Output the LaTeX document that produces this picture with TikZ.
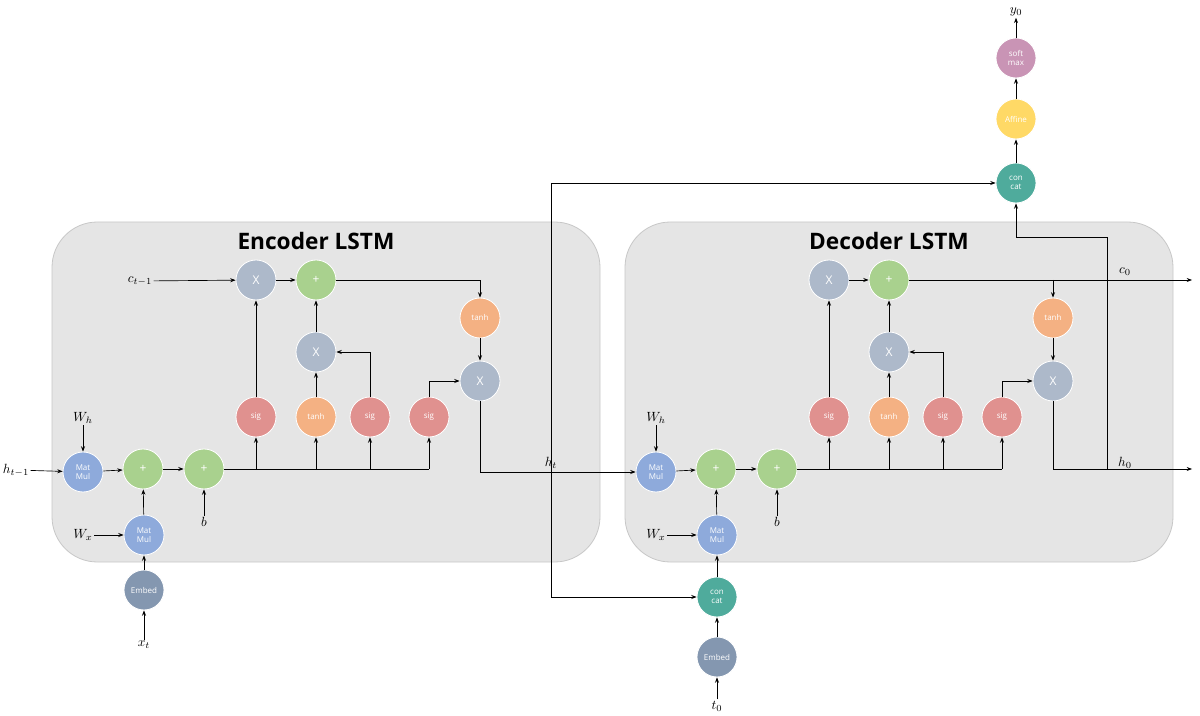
\documentclass[tikz,border=0pt]{standalone}
\usepackage{fontspec}
\setsansfont{Open Sans}
\usetikzlibrary{arrows.meta}
\definecolor{cmat}{HTML}{8EAADB}
\definecolor{cplus}{HTML}{A9D18E}
\definecolor{cx}{HTML}{ADB9CA}
\definecolor{csig}{HTML}{E0918F}
\definecolor{ctanh}{HTML}{F4B183}
\definecolor{cemb}{HTML}{8497B0}
\definecolor{ccat}{HTML}{4FAB9C}
\definecolor{caff}{HTML}{FFD966}
\definecolor{csm}{HTML}{C994B5}
\begin{document}
\begin{tikzpicture}[x=0.75pt,y=-0.75pt,
 op/.style={circle,minimum size=30pt,inner sep=0pt,draw=white,line width=0.6pt,text=white,font=\sffamily\fontsize{6}{7}\selectfont,align=center},
 big/.style={op,font=\sffamily\fontsize{9}{10}\selectfont},
 lab/.style={inner sep=1pt,font=\fontsize{10}{12}\selectfont},
 panel/.style={draw=black!22,fill=black!10,rounded corners=34pt,line width=0.6pt},
 ttl/.style={font=\sffamily\bfseries\fontsize{17}{20}\selectfont},
 ar/.style={-{Stealth[length=4pt,width=3pt]},line width=0.5pt},
 ln/.style={line width=0.5pt}]
\useasboundingbox (0,0) rectangle (1200,716);
\draw[panel] (52,222) rectangle (600,562);
\draw[panel] (625,222) rectangle (1173,562);
\node[ttl] (te) at (316,241) {Encoder LSTM};
\node[ttl] (td) at (889,241) {Decoder LSTM};
% encoder
\node[op,fill=cmat] (emh) at (83,472) {Mat\\Mul};
\node[big,fill=cplus] (ep1) at (143,469) {+};
\node[big,fill=cplus] (ep2) at (204,469) {+};
\node[op,fill=cmat] (emx) at (144,535) {Mat\\Mul};
\node[op,fill=cemb] (eemb) at (144,590) {Embed};
\node[lab] (ext) at (144,645) {$x_t$};
\node[lab] (ewh) at (83,418) {$W_h$};
\node[lab] (ewx) at (83,535) {$W_x$};
\node[lab] (eb) at (204,522) {$b$};
\node[lab] (eht) at (16,470) {$h_{t-1}$};
\node[lab] (ect) at (140,281) {$c_{t-1}$};
\node[big,fill=cx] (ext1) at (256,280) {X};
\node[big,fill=cplus] (eplus) at (316,280) {+};
\node[op,fill=ctanh] (etanh) at (480,318) {tanh};
\node[big,fill=cx] (exm) at (316,352) {X};
\node[big,fill=cx] (exr) at (480,381) {X};
\node[op,fill=csig] (es1) at (256,417) {sig};
\node[op,fill=ctanh] (et2) at (316,417) {tanh};
\node[op,fill=csig] (es2) at (370,417) {sig};
\node[op,fill=csig] (es3) at (429,417) {sig};
% decoder
\node[op,fill=cmat] (dmh) at (656,472) {Mat\\Mul};
\node[big,fill=cplus] (dp1) at (716,469) {+};
\node[big,fill=cplus] (dp2) at (777,469) {+};
\node[op,fill=cmat] (dmx) at (717,535) {Mat\\Mul};
\node[op,fill=ccat] (dcat) at (717,597) {con\\cat};
\node[op,fill=cemb] (demb) at (717,657) {Embed};
\node[lab] (dt0) at (717,706) {$t_0$};
\node[lab] (dwh) at (656,418) {$W_h$};
\node[lab] (dwx) at (656,535) {$W_x$};
\node[lab] (db) at (777,522) {$b$};
\node[lab] (hlab) at (551,463) {$h_t$};
\node[big,fill=cx] (dxt) at (829,280) {X};
\node[big,fill=cplus] (dplus) at (889,280) {+};
\node[op,fill=ctanh] (dtanh) at (1053,318) {tanh};
\node[big,fill=cx] (dxm) at (889,352) {X};
\node[big,fill=cx] (dxr) at (1053,381) {X};
\node[op,fill=csig] (ds1) at (829,417) {sig};
\node[op,fill=ctanh] (dt2) at (889,417) {tanh};
\node[op,fill=csig] (ds2) at (943,417) {sig};
\node[op,fill=csig] (ds3) at (1002,417) {sig};
\node[lab] (c0) at (1125,272) {$c_0$};
\node[lab] (h0) at (1125,463) {$h_0$};
\coordinate (cend) at (1192,280);
\coordinate (hend) at (1192,469);
% top
\node[op,fill=ccat] (tcat) at (1016,183) {con\\cat};
\node[op,fill=caff] (taff) at (1016,119) {Affine};
\node[op,fill=csm] (tsm) at (1016,58) {soft\\max};
\node[lab] (ty) at (1016,12) {$y_0$};
% encoder edges
\draw[ar] (eht) -- (emh);
\draw[ar] (ewh) -- (emh);
\draw[ar] (emh) -- (ep1);
\draw[ar] (ep1) -- (ep2);
\draw[ar] (emx) -- (ep1);
\draw[ar] (eemb) -- (emx);
\draw[ar] (ext) -- (eemb);
\draw[ar] (ewx) -- (emx);
\draw[ar] (eb) -- (ep2);
\draw[ln] (ep2) -- (429,469);
\draw[ar] (256,469) -- (es1);
\draw[ar] (316,469) -- (et2);
\draw[ar] (370,469) -- (es2);
\draw[ar] (429,469) -- (es3);
\draw[ar] (es1) -- (ext1);
\draw[ar] (ect) -- (ext1);
\draw[ar] (ext1) -- (eplus);
\draw[ar] (exm) -- (eplus);
\draw[ar] (et2) -- (exm);
\draw[ar] (es2) |- (exm);
\draw[ar] (eplus) -| (etanh);
\draw[ar] (etanh) -- (exr);
\draw[ar] (es3) |- (exr);
\draw[ar] (exr) |- (dmh);
\draw[ar] (551,469) |- (tcat);
\draw[ar] (551,469) |- (dcat);
% decoder edges
\draw[ar] (dwh) -- (dmh);
\draw[ar] (dmh) -- (dp1);
\draw[ar] (dp1) -- (dp2);
\draw[ar] (dmx) -- (dp1);
\draw[ar] (dcat) -- (dmx);
\draw[ar] (demb) -- (dcat);
\draw[ar] (dt0) -- (demb);
\draw[ar] (dwx) -- (dmx);
\draw[ar] (db) -- (dp2);
\draw[ln] (dp2) -- (1002,469);
\draw[ar] (829,469) -- (ds1);
\draw[ar] (889,469) -- (dt2);
\draw[ar] (943,469) -- (ds2);
\draw[ar] (1002,469) -- (ds3);
\draw[ar] (ds1) -- (dxt);
\draw[ar] (dxt) -- (dplus);
\draw[ar] (dxm) -- (dplus);
\draw[ar] (dt2) -- (dxm);
\draw[ar] (ds2) |- (dxm);
\draw[ar] (dplus) -- (cend);
\draw[ar] (1053,280) -- (dtanh);
\draw[ar] (dtanh) -- (dxr);
\draw[ar] (ds3) |- (dxr);
\draw[ar] (dxr) |- (hend);
\draw[ar] (1107,469) -- (1107,237) -| (tcat);
\draw[ar] (tcat) -- (taff);
\draw[ar] (taff) -- (tsm);
\draw[ar] (tsm) -- (ty);
\end{tikzpicture}
\end{document}
